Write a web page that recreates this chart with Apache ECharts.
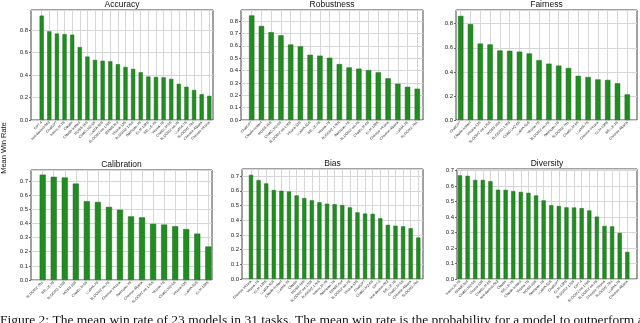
<!DOCTYPE html>
<html>
<head>
<meta charset="utf-8">
<script src="https://cdn.jsdelivr.net/npm/echarts@6/dist/echarts.min.js"></script>
<style>
  html, body { margin: 0; padding: 0; background: #fff; }
  #chart { width: 640px; height: 323px; }
</style>
</head>
<body>
<div id="chart"></div>
<script>
// values (mean win rate per model, sorted)
const accuracyModels = ['GPT-4', 'text-davinci-003', 'ChatGPT', 'InternLM-7B', 'Claude', 'Claude-instant', 'MOSS-16B', 'ChatGLM2-6B', 'LLaMA-65B', 'BLOOMZ-mt-176B', 'ERNIE-Bot', 'Vicuna-13B', 'BLOOMZ-176B', 'Baichuan-7B', 'GLM-130B', 'BELLE-7B', 'Vicuna-7B', 'ChatGLM-6B', 'BLOOMZ-mt-7B', 'LLaMA-7B', 'BLOOMZ-7B1', 'Chinese-Alpaca', 'Chinese-Vicuna'];
const accuracyValues = [0.93, 0.79, 0.77, 0.765, 0.76, 0.65, 0.565, 0.535, 0.528, 0.523, 0.497, 0.473, 0.455, 0.425, 0.387, 0.383, 0.38, 0.366, 0.322, 0.296, 0.267, 0.23, 0.215];

const robustnessModels = ['ChatGPT', 'Claude-instant', 'MOSS-16B', 'ChatGLM2-6B', 'BLOOMZ-mt-176B', 'Vicuna-13B', 'LLaMA-65B', 'BELLE-7B', 'Vicuna-7B', 'BLOOMZ-176B', 'Baichuan-7B', 'BLOOMZ-mt-7B', 'ChatGLM-6B', 'GLM-130B', 'Chinese-Vicuna', 'Chinese-Alpaca', 'LLaMA-7B', 'BLOOMZ-7B1'];
const robustnessValues = [0.845, 0.76, 0.71, 0.685, 0.61, 0.595, 0.527, 0.52, 0.503, 0.452, 0.425, 0.415, 0.403, 0.385, 0.337, 0.293, 0.268, 0.253];

const fairnessModels = ['ChatGPT', 'Claude-instant', 'Vicuna-13B', 'BLOOMZ-mt-176B', 'MOSS-16B', 'BLOOMZ-176B', 'ChatGLM2-6B', 'LLaMA-65B', 'Vicuna-7B', 'BLOOMZ-mt-7B', 'Baichuan-7B', 'BLOOMZ-7B1', 'ChatGLM-6B', 'LLaMA-7B', 'Chinese-Vicuna', 'GLM-130B', 'BELLE-7B', 'Chinese-Alpaca'];
const fairnessValues = [0.865, 0.797, 0.635, 0.628, 0.578, 0.575, 0.568, 0.553, 0.497, 0.468, 0.452, 0.432, 0.367, 0.357, 0.337, 0.333, 0.305, 0.213];

const calibrationModels = ['BLOOMZ-7B1', 'BELLE-7B', 'BLOOMZ-176B', 'MOSS-16B', 'ChatGLM-6B', 'LLaMA-7B', 'BLOOMZ-mt-7B', 'Chinese-Vicuna', 'Baichuan-7B', 'Chinese-Alpaca', 'BLOOMZ-mt-176B', 'Vicuna-7B', 'ChatGLM2-6B', 'Vicuna-13B', 'LLaMA-65B', 'GLM-130B'];
const calibrationValues = [0.745, 0.73, 0.725, 0.682, 0.557, 0.552, 0.517, 0.497, 0.45, 0.443, 0.397, 0.392, 0.38, 0.36, 0.328, 0.237];

const biasModels = ['Chinese-Vicuna', 'Vicuna-7B', 'GLM-130B', 'LLaMA-65B', 'Claude-instant', 'LLaMA-7B', 'Claude', 'MOSS-16B', 'BLOOMZ-mt-176B', 'BLOOMZ-176B', 'InternLM-7B', 'Baichuan-7B', 'ERNIE-Bot', 'BLOOMZ-mt-7B', 'Vicuna-13B', 'ChatGPT', 'ChatGLM2-6B', 'GPT-4', 'text-davinci-003', 'BELLE-7B', 'ChatGLM-6B', 'Chinese-Alpaca', 'BLOOMZ-7B1'];
const biasValues = [0.708, 0.672, 0.65, 0.605, 0.6, 0.595, 0.568, 0.55, 0.535, 0.522, 0.512, 0.508, 0.503, 0.487, 0.453, 0.445, 0.443, 0.413, 0.368, 0.362, 0.358, 0.345, 0.282];

const diversityModels = ['InternLM-7B', 'ERNIE-Bot', 'ChatGLM2-6B', 'Vicuna-13B', 'ChatGLM-6B', 'text-davinci-003', 'Claude', 'BELLE-7B', 'Claude-instant', 'Vicuna-7B', 'MOSS-16B', 'Baichuan-7B', 'LLaMA-65B', 'ChatGPT', 'GLM-130B', 'BLOOMZ-176B', 'GPT-4', 'BLOOMZ-mt-176B', 'BLOOMZ-mt-7B', 'Chinese-Vicuna', 'BLOOMZ-7B1', 'LLaMA-7B', 'Chinese-Alpaca'];
const diversityValues = [0.67, 0.667, 0.64, 0.64, 0.632, 0.577, 0.576, 0.568, 0.563, 0.557, 0.54, 0.508, 0.477, 0.472, 0.463, 0.462, 0.458, 0.443, 0.403, 0.343, 0.34, 0.298, 0.175];

const panels = [
  { title: 'Accuracy', models: accuracyModels, values: accuracyValues, yMax: 0.98, yStep: 0.2 },
  { title: 'Robustness', models: robustnessModels, values: robustnessValues, yMax: 0.889, yStep: 0.1 },
  { title: 'Fairness', models: fairnessModels, values: fairnessValues, yMax: 0.914, yStep: 0.2 },
  { title: 'Calibration', models: calibrationModels, values: calibrationValues, yMax: 0.778, yStep: 0.1 },
  { title: 'Bias', models: biasModels, values: biasValues, yMax: 0.748, yStep: 0.1 },
  { title: 'Diversity', models: diversityModels, values: diversityValues, yMax: 0.711, yStep: 0.1 }
];

// frame [left, top, right, bottom] and first/last bar centre (px)
const layout = [
  { frame: [31, 10, 213, 120], first: 41.7, last: 209.3 },
  { frame: [241, 10, 423, 120], first: 251.7, last: 417.3 },
  { frame: [456, 10, 637, 120], first: 460.7, last: 627.3 },
  { frame: [31, 170, 212, 280], first: 42.7, last: 208.3 },
  { frame: [242, 169, 423, 279], first: 251, last: 418.3 },
  { frame: [457, 169, 637, 279], first: 460, last: 627.3 }
];

const font = 'Liberation Sans';
const chart = echarts.init(document.getElementById('chart'));

const grid = [], xAxis = [], yAxis = [], series = [], graphic = [];

panels.forEach((p, k) => {
  const lay = layout[k];
  const [l, t, r, b] = lay.frame;
  const outer = 2 * k, inner = 2 * k + 1;

  // frame + horizontal grid + y labels
  grid.push({ left: l, top: t, width: r - l, height: b - t, show: true,
    borderColor: '#444', borderWidth: 1, backgroundColor: 'transparent' });
  xAxis.push({ gridIndex: outer, type: 'value', min: 0, max: 1, show: false });
  yAxis.push({
    gridIndex: outer, type: 'value', min: 0, max: p.yMax, interval: p.yStep,
    axisLine: { show: false },
    axisTick: { show: true, length: 2, lineStyle: { color: '#444', width: 0.8 } },
    axisLabel: { fontSize: 6, color: '#222', fontFamily: font, margin: 3, showMaxLabel: false,
      formatter: v => v.toFixed(1) },
    splitLine: { show: true, lineStyle: { color: '#d6d6d6', width: 1 } }
  });

  // bars, vertical grid, model labels
  grid.push({ left: lay.first, top: t, width: lay.last - lay.first, height: b - t, show: false });
  xAxis.push({
    gridIndex: inner, type: 'category', data: p.models, boundaryGap: false,
    axisLine: { show: false }, axisTick: { show: false },
    axisLabel: { rotate: 45, interval: 0, fontSize: 3.5, color: '#222', fontFamily: font, margin: 2 },
    splitLine: { show: true, lineStyle: { color: '#d6d6d6', width: 1 } }
  });
  yAxis.push({ gridIndex: inner, type: 'value', min: 0, max: p.yMax, show: false });

  series.push({
    type: 'bar', name: p.title, xAxisIndex: inner, yAxisIndex: inner,
    data: p.values, barWidth: '55%', clip: false, silent: true,
    itemStyle: { color: '#228b22', borderColor: '#1b6f1b', borderWidth: 0.5 }
  });

  graphic.push({
    type: 'text', x: (l + r) / 2, y: t - 5.5,
    style: { text: p.title, fontSize: 8.5, fontFamily: font, fill: '#111',
      align: 'center', verticalAlign: 'middle' }
  });
});

graphic.push({
  type: 'text', x: 4, y: 148, rotation: Math.PI / 2,
  style: { text: 'Mean Win Rate', fontSize: 7.5, fontFamily: font, fill: '#111',
    align: 'center', verticalAlign: 'middle' }
});
// figure caption, cut off by the bottom edge as in the source
graphic.push({
  type: 'text', x: 0, y: 313,
  style: { text: 'Figure 2: The mean win rate of 23 models in 31 tasks. The mean win rate is the probability for a model to outperform a random',
    fontSize: 13.5, fontFamily: 'Liberation Serif', fill: '#111', align: 'left', verticalAlign: 'top' }
});

chart.setOption({
  animation: false,
  backgroundColor: '#fff',
  grid: grid,
  xAxis: xAxis,
  yAxis: yAxis,
  series: series,
  graphic: graphic
});
</script>
</body>
</html>
